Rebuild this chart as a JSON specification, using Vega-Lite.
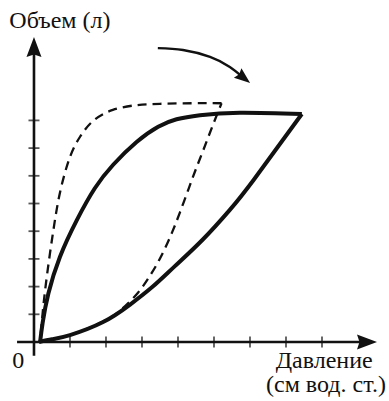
{
  "$schema": "https://vega.github.io/schema/vega-lite/v6.json",
  "width": 389,
  "height": 401,
  "padding": 0,
  "autosize": {"type": "none"},
  "background": "white",
  "config": {"view": {"stroke": null}},
  "datasets": {
    "loops": [
      {"c": "solid", "limb": "inflate", "i": 0, "p": 0.14, "v": 0.0},
      {"c": "solid", "limb": "inflate", "i": 1, "p": 0.5, "v": 0.1},
      {"c": "solid", "limb": "inflate", "i": 2, "p": 1.0, "v": 0.25},
      {"c": "solid", "limb": "inflate", "i": 3, "p": 1.92, "v": 0.72},
      {"c": "solid", "limb": "inflate", "i": 4, "p": 2.67, "v": 1.35},
      {"c": "solid", "limb": "inflate", "i": 5, "p": 3.3, "v": 2.0},
      {"c": "solid", "limb": "inflate", "i": 6, "p": 3.9, "v": 2.72},
      {"c": "solid", "limb": "inflate", "i": 7, "p": 4.69, "v": 3.7},
      {"c": "solid", "limb": "inflate", "i": 8, "p": 5.44, "v": 4.77},
      {"c": "solid", "limb": "inflate", "i": 9, "p": 6.1, "v": 5.85},
      {"c": "solid", "limb": "inflate", "i": 10, "p": 7.44, "v": 8.23},
      {"c": "solid", "limb": "deflate", "i": 0, "p": 7.44, "v": 8.23},
      {"c": "solid", "limb": "deflate", "i": 1, "p": 5.72, "v": 8.28},
      {"c": "solid", "limb": "deflate", "i": 2, "p": 4.61, "v": 8.19},
      {"c": "solid", "limb": "deflate", "i": 3, "p": 3.96, "v": 8.04},
      {"c": "solid", "limb": "deflate", "i": 4, "p": 3.45, "v": 7.77},
      {"c": "solid", "limb": "deflate", "i": 5, "p": 2.85, "v": 7.22},
      {"c": "solid", "limb": "deflate", "i": 6, "p": 2.2, "v": 6.4},
      {"c": "solid", "limb": "deflate", "i": 7, "p": 1.69, "v": 5.55},
      {"c": "solid", "limb": "deflate", "i": 8, "p": 1.19, "v": 4.4},
      {"c": "solid", "limb": "deflate", "i": 9, "p": 0.72, "v": 3.07},
      {"c": "solid", "limb": "deflate", "i": 10, "p": 0.4, "v": 1.75},
      {"c": "solid", "limb": "deflate", "i": 11, "p": 0.24, "v": 0.69},
      {"c": "solid", "limb": "deflate", "i": 12, "p": 0.17, "v": 0.0},
      {"c": "dashed", "limb": "inflate", "i": 0, "p": 0.17, "v": 0.0},
      {"c": "dashed", "limb": "inflate", "i": 1, "p": 1.0, "v": 0.25},
      {"c": "dashed", "limb": "inflate", "i": 2, "p": 1.92, "v": 0.74},
      {"c": "dashed", "limb": "inflate", "i": 3, "p": 2.45, "v": 1.2},
      {"c": "dashed", "limb": "inflate", "i": 4, "p": 2.9, "v": 1.8},
      {"c": "dashed", "limb": "inflate", "i": 5, "p": 3.25, "v": 2.45},
      {"c": "dashed", "limb": "inflate", "i": 6, "p": 3.55, "v": 3.14},
      {"c": "dashed", "limb": "inflate", "i": 7, "p": 3.83, "v": 3.94},
      {"c": "dashed", "limb": "inflate", "i": 8, "p": 4.06, "v": 4.7},
      {"c": "dashed", "limb": "inflate", "i": 9, "p": 4.3, "v": 5.55},
      {"c": "dashed", "limb": "inflate", "i": 10, "p": 4.5, "v": 6.25},
      {"c": "dashed", "limb": "inflate", "i": 11, "p": 4.71, "v": 6.95},
      {"c": "dashed", "limb": "inflate", "i": 12, "p": 4.95, "v": 7.77},
      {"c": "dashed", "limb": "inflate", "i": 13, "p": 5.21, "v": 8.62},
      {"c": "dashed", "limb": "deflate", "i": 0, "p": 5.21, "v": 8.62},
      {"c": "dashed", "limb": "deflate", "i": 1, "p": 4.42, "v": 8.62},
      {"c": "dashed", "limb": "deflate", "i": 2, "p": 3.5, "v": 8.6},
      {"c": "dashed", "limb": "deflate", "i": 3, "p": 2.85, "v": 8.55},
      {"c": "dashed", "limb": "deflate", "i": 4, "p": 2.19, "v": 8.38},
      {"c": "dashed", "limb": "deflate", "i": 5, "p": 1.64, "v": 7.98},
      {"c": "dashed", "limb": "deflate", "i": 6, "p": 1.28, "v": 7.41},
      {"c": "dashed", "limb": "deflate", "i": 7, "p": 1.0, "v": 6.68},
      {"c": "dashed", "limb": "deflate", "i": 8, "p": 0.74, "v": 5.5},
      {"c": "dashed", "limb": "deflate", "i": 9, "p": 0.57, "v": 4.3},
      {"c": "dashed", "limb": "deflate", "i": 10, "p": 0.43, "v": 3.07},
      {"c": "dashed", "limb": "deflate", "i": 11, "p": 0.31, "v": 1.88},
      {"c": "dashed", "limb": "deflate", "i": 12, "p": 0.23, "v": 0.9},
      {"c": "dashed", "limb": "deflate", "i": 13, "p": 0.17, "v": 0.0}
    ],
    "shift": [
      {"i": 0, "p": 3.44, "v": 10.61},
      {"i": 1, "p": 4.14, "v": 10.54},
      {"i": 2, "p": 4.89, "v": 10.29},
      {"i": 3, "p": 5.44, "v": 9.93},
      {"i": 4, "p": 5.8, "v": 9.56}
    ],
    "axes": [
      {"axis": "x", "p": -0.47, "v": 0, "p2": 9.25, "v2": 0},
      {"axis": "y", "p": 0, "v": -0.5, "p2": 0, "v2": 10.65}
    ],
    "ticks": [
      {"axis": "x", "p": 1, "v": 0}, {"axis": "x", "p": 2, "v": 0},
      {"axis": "x", "p": 3, "v": 0}, {"axis": "x", "p": 4, "v": 0},
      {"axis": "x", "p": 5, "v": 0}, {"axis": "x", "p": 6, "v": 0},
      {"axis": "x", "p": 7, "v": 0}, {"axis": "x", "p": 8, "v": 0},
      {"axis": "y", "p": 0, "v": 1}, {"axis": "y", "p": 0, "v": 2},
      {"axis": "y", "p": 0, "v": 3}, {"axis": "y", "p": 0, "v": 4},
      {"axis": "y", "p": 0, "v": 5}, {"axis": "y", "p": 0, "v": 6},
      {"axis": "y", "p": 0, "v": 7}, {"axis": "y", "p": 0, "v": 8}
    ],
    "heads": [
      {"head": "y", "p": 0, "v": 10.65},
      {"head": "x", "p": 9.25, "v": 0},
      {"head": "shift", "p": 5.83, "v": 9.53}
    ],
    "labels": [
      {"text": "Объем (л)", "p": 0.72, "v": 11.34},
      {"text": "0", "p": -0.44, "v": -0.94},
      {"text": "Давление", "p": 8.06, "v": -0.94},
      {"text": "(см вод. ст.)", "p": 8.11, "v": -1.81}
    ]
  },
  "encoding": {
    "x": {"field": "p", "type": "quantitative", "axis": null,
          "scale": {"domain": [-0.944, 9.861], "nice": false, "zero": false}},
    "y": {"field": "v", "type": "quantitative", "axis": null,
          "scale": {"domain": [-2.13, 12.347], "nice": false, "zero": false}}
  },
  "layer": [
    {
      "data": {"name": "axes"},
      "mark": {"type": "rule", "color": "#111", "strokeWidth": 2.6},
      "encoding": {"x2": {"field": "p2"}, "y2": {"field": "v2"}}
    },
    {
      "data": {"name": "ticks"},
      "transform": [{"filter": "datum.axis === 'x'"}],
      "mark": {"type": "tick", "orient": "vertical", "color": "#111", "size": 11, "thickness": 1.8}
    },
    {
      "data": {"name": "ticks"},
      "transform": [{"filter": "datum.axis === 'y'"}],
      "mark": {"type": "tick", "orient": "horizontal", "color": "#111", "size": 11, "thickness": 1.8}
    },
    {
      "data": {"name": "heads"},
      "transform": [{"filter": "datum.head === 'y'"}],
      "mark": {"type": "point", "filled": true, "color": "#111", "opacity": 1, "size": 400, "angle": 0,
               "shape": "M0,-1L-0.75,1L0,0.75L0.75,1Z"}
    },
    {
      "data": {"name": "heads"},
      "transform": [{"filter": "datum.head === 'x'"}],
      "mark": {"type": "point", "filled": true, "color": "#111", "opacity": 1, "size": 400, "angle": 90,
               "shape": "M0,-1L-0.75,1L0,0.75L0.75,1Z"}
    },
    {
      "data": {"name": "loops"},
      "transform": [{"filter": "datum.c === 'dashed'"}],
      "mark": {"type": "line", "interpolate": "natural", "color": "#111", "strokeWidth": 2.3, "strokeDash": [9, 6]},
      "encoding": {"detail": {"field": "limb"}, "order": {"field": "i", "type": "quantitative"}}
    },
    {
      "data": {"name": "loops"},
      "transform": [{"filter": "datum.c === 'solid'"}],
      "mark": {"type": "line", "interpolate": "natural", "color": "#111", "strokeWidth": 4, "strokeJoin": "miter"},
      "encoding": {"detail": {"field": "limb"}, "order": {"field": "i", "type": "quantitative"}}
    },
    {
      "data": {"name": "shift"},
      "mark": {"type": "line", "interpolate": "natural", "color": "#111", "strokeWidth": 2.4},
      "encoding": {"order": {"field": "i", "type": "quantitative"}}
    },
    {
      "data": {"name": "heads"},
      "transform": [{"filter": "datum.head === 'shift'"}],
      "mark": {"type": "point", "filled": true, "color": "#111", "opacity": 1, "size": 256, "angle": 129,
               "shape": "M0,-1L-0.75,1L0,0.75L0.75,1Z"}
    },
    {
      "data": {"name": "labels"},
      "mark": {"type": "text", "font": "Liberation Serif, DejaVu Serif, serif", "fontSize": 24, "color": "#111",
               "align": "center", "baseline": "alphabetic"},
      "encoding": {"text": {"field": "text"}}
    }
  ]
}
